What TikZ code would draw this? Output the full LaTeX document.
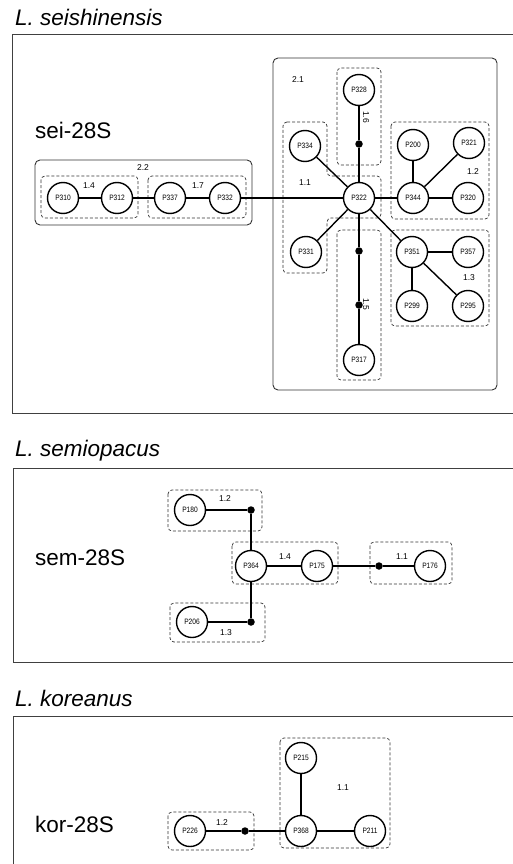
\documentclass[tikz,border=0pt]{standalone}
\usepackage{fontspec}
\usepackage{graphicx}
\setmainfont{Liberation Sans}
\newcommand{\ptx}[1]{\scalebox{0.85}[1]{#1}}
\tikzset{
  pn/.style={circle, draw, line width=1.4pt, minimum size=31pt, inner sep=0pt, font=\fontsize{7.8}{8}\selectfont},
  dotn/.style={circle, fill, minimum size=7.5pt, inner sep=0pt},
  lab/.style={font=\fontsize{8.5}{10}\selectfont, inner sep=0pt},
  ttl/.style={font=\fontsize{22.5}{26}\selectfont\itshape, anchor=base west, inner sep=0pt},
  grp/.style={font=\fontsize{22.5}{26}\selectfont, anchor=base west, inner sep=0pt},
  dbox/.style={draw=black!80, line width=0.7pt, dash pattern=on 3pt off 2pt, rounded corners=4pt},
  sbox/.style={draw=black!80, line width=0.9pt, rounded corners=5pt},
  obox/.style={draw=black!75, line width=1pt},
  edge/.style={line width=1.4pt}
}
\begin{document}
\begin{tikzpicture}[x=1pt,y=-1pt]
\useasboundingbox (0,0) rectangle (513,864);
% ===== section 1 =====
\node[ttl] (t1) at (15,25.5) {L. seishinensis};
\draw[obox] (530,35) -- (12,35) -- (12,413) -- (530,413);
\node[grp] (g1) at (35,139) {sei-28S};
\draw[sbox] (273,58) rectangle (497,390);
\draw[sbox] (35,160) rectangle (252,225);
\draw[dbox] (41,176) rectangle (138,218);
\draw[dbox] (148,176) rectangle (246,218);
\draw[dbox] (337,68) rectangle (381,165);
\draw[dbox] (283,122) -- (327,122) -- (327,176) -- (381,176) -- (381,218) -- (327,218) -- (327,273) -- (283,273) -- cycle;
\draw[dbox] (391,122) rectangle (489,219);
\draw[dbox] (391,230) rectangle (489,326);
\draw[dbox] (337,230) rectangle (381,380);
\node[lab] (l21) at (298,80) {2.1};
\node[lab] (l22) at (143,168) {2.2};
\node[lab] (l14) at (89,186) {1.4};
\node[lab] (l17) at (198,186) {1.7};
\node[lab] (l11) at (305,183) {1.1};
\node[lab] (l12) at (473,172) {1.2};
\node[lab] (l13) at (469,278) {1.3};
\node[lab, rotate=-90] (l16) at (366,117) {1.6};
\node[lab, rotate=-90] (l15) at (366,304) {1.5};
\node[pn] (P310) at (63,198) {\ptx{P310}};
\node[pn] (P312) at (117,198) {\ptx{P312}};
\node[pn] (P337) at (170,198) {\ptx{P337}};
\node[pn] (P332) at (225,198) {\ptx{P332}};
\node[pn] (P322) at (359,198) {\ptx{P322}};
\node[pn] (P344) at (413,198) {\ptx{P344}};
\node[pn] (P320) at (468,198) {\ptx{P320}};
\node[pn] (P200) at (413,145) {\ptx{P200}};
\node[pn] (P321) at (469,143) {\ptx{P321}};
\node[pn] (P328) at (359,90) {\ptx{P328}};
\node[dotn] (d16) at (359,144) {};
\node[pn] (P334) at (305,146) {\ptx{P334}};
\node[pn] (P331) at (306,252) {\ptx{P331}};
\node[pn] (P351) at (412,252) {\ptx{P351}};
\node[pn] (P357) at (468,252) {\ptx{P357}};
\node[pn] (P299) at (412,306) {\ptx{P299}};
\node[pn] (P295) at (468,306) {\ptx{P295}};
\node[dotn] (d15a) at (359,251) {};
\node[dotn] (d15b) at (359,305) {};
\node[pn] (P317) at (359,360) {\ptx{P317}};
\draw[edge] (P310) -- (P312);
\draw[edge] (P312) -- (P337);
\draw[edge] (P337) -- (P332);
\draw[edge] (P332) -- (P322);
\draw[edge] (P322) -- (P334);
\draw[edge] (P322) -- (P331);
\draw[edge] (P322) -- (d16) -- (P328);
\draw[edge] (P322) -- (d15a) -- (d15b) -- (P317);
\draw[edge] (P322) -- (P344);
\draw[edge] (P344) -- (P200);
\draw[edge] (P344) -- (P321);
\draw[edge] (P344) -- (P320);
\draw[edge] (P322) -- (P351);
\draw[edge] (P351) -- (P357);
\draw[edge] (P351) -- (P299);
\draw[edge] (P351) -- (P295);
% ===== section 2 =====
\node[ttl] (t2) at (15,456.5) {L. semiopacus};
\draw[obox] (530,468) -- (13,468) -- (13,662) -- (530,662);
\node[grp] (g2) at (35,565) {sem-28S};
\draw[dbox] (168,490) rectangle (262,531);
\draw[dbox] (232,542) rectangle (338,584);
\draw[dbox] (370,542) rectangle (452,584);
\draw[dbox] (170,603) rectangle (265,642);
\node[lab] (s12) at (225,499) {1.2};
\node[lab] (s14) at (285,557) {1.4};
\node[lab] (s11) at (402,557) {1.1};
\node[lab] (s13) at (226,633) {1.3};
\node[pn] (P180) at (190,510) {\ptx{P180}};
\node[dotn] (e1) at (251,510) {};
\node[pn] (P364) at (251,566) {\ptx{P364}};
\node[pn] (P175) at (317,566) {\ptx{P175}};
\node[dotn] (e2) at (379,566) {};
\node[pn] (P176) at (430,566) {\ptx{P176}};
\node[pn] (P206) at (192,622) {\ptx{P206}};
\node[dotn] (e3) at (251,622) {};
\draw[edge] (P180) -- (e1) -- (P364);
\draw[edge] (P364) -- (P175);
\draw[edge] (P175) -- (e2) -- (P176);
\draw[edge] (P364) -- (e3) -- (P206);
% ===== section 3 =====
\node[ttl] (t3) at (15,706) {L. koreanus};
\draw[obox] (530,716) -- (13,716) -- (13,880);
\node[grp] (g3) at (35,832) {kor-28S};
\draw[dbox] (168,812) rectangle (254,850);
\draw[dbox] (280,738) rectangle (390,848);
\node[lab] (k12) at (222,823) {1.2};
\node[lab] (k11) at (343,788) {1.1};
\node[pn] (P215) at (301,758) {\ptx{P215}};
\node[pn] (P368) at (301,831) {\ptx{P368}};
\node[pn] (P211) at (370,831) {\ptx{P211}};
\node[pn] (P226) at (190,831) {\ptx{P226}};
\node[dotn] (f1) at (245,831) {};
\draw[edge] (P226) -- (f1) -- (P368);
\draw[edge] (P368) -- (P215);
\draw[edge] (P368) -- (P211);
\end{tikzpicture}
\end{document}
